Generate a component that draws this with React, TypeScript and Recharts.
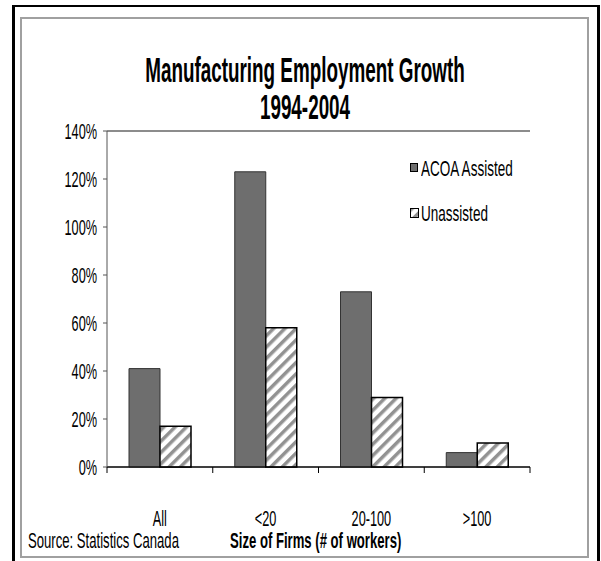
import { BarChart, Bar, XAxis, YAxis, CartesianGrid, Legend, ReferenceLine } from 'recharts'

const categories = ['All', '<20', '20-100', '>100']
const acoaAssisted = [41, 123, 73, 6]
const unassisted = [17, 58, 29, 10]
const yTicks = [0, 20, 40, 60, 80, 100, 120, 140]

const data = categories.map((name, i) => ({ name, acoa: acoaAssisted[i], unassisted: unassisted[i] }))

// narrow + tall look of the original: Arial-metric font squeezed sideways, stretched up
const FONT = '"Liberation Sans", Arial, sans-serif'
const SX = 0.82
const SY = 1.4
const PLOT_LEFT = 107
const PLOT_RIGHT = 530
const PLOT_TOP = 131
const PLOT_BOTTOM = 467
const BAND = (PLOT_RIGHT - PLOT_LEFT) / categories.length

const XTick = (props: any) => {
  const { x, payload, index } = props
  const last = index === categories.length - 1
  return (
    <g>
      <line x1={x - BAND / 2} x2={x - BAND / 2} y1={PLOT_BOTTOM} y2={PLOT_BOTTOM + 6} stroke="#000" />
      {last && <line x1={x + BAND / 2} x2={x + BAND / 2} y1={PLOT_BOTTOM} y2={PLOT_BOTTOM + 6} stroke="#000" />}
      <text
        transform={`translate(${x},518) scale(${SX},${SY})`}
        textAnchor="middle"
        dy="0.36em"
        fontFamily={FONT}
        fontSize={15.5}
        fill="#000"
      >
        {payload.value}
      </text>
    </g>
  )
}

const YTick = (props: any) => {
  const { y, payload } = props
  return (
    <text
      transform={`translate(97,${y}) scale(${SX},${SY})`}
      textAnchor="end"
      dy="0.36em"
      fontFamily={FONT}
      fontSize={15.5}
      fill="#000"
    >
      {payload.value}%
    </text>
  )
}

const squeeze = (sy: number) => ({ transform: `scale(${SX},${sy})`, transformOrigin: 'left center', whiteSpace: 'nowrap' as const })

const LegendBox = () => (
  <div style={{ fontFamily: FONT, fontSize: 16.5, color: '#000', position: 'relative', width: 111, height: 85 }}>
    <div style={{ position: 'absolute', left: 3, top: 13, width: 8, height: 9, background: '#6e6e6e', border: '1px solid #000', boxSizing: 'border-box' }} />
    <div style={{ position: 'absolute', left: 14, top: 8, lineHeight: '20px', ...squeeze(1.3) }}>ACOA Assisted</div>
    <svg style={{ position: 'absolute', left: 3, top: 58 }} width={9} height={10}>
      <rect x={0.5} y={0.5} width={8} height={9} fill="url(#hatch)" stroke="#000" />
    </svg>
    <div style={{ position: 'absolute', left: 14, top: 53, lineHeight: '20px', ...squeeze(1.3) }}>Unassisted</div>
  </div>
)

export default function App() {
  return (
    <div style={{ position: 'absolute', left: 0, top: 0, width: 601, height: 561, overflow: 'hidden', background: '#fff' }}>
      <div style={{ position: 'absolute', left: 12, top: 5, width: 588, height: 600, borderStyle: 'solid', borderColor: '#000', borderWidth: '2px 3px', boxSizing: 'border-box' }} />
      <div style={{ position: 'absolute', left: 20, top: 17, width: 569, height: 541, border: '2px solid #a0a0a0', boxSizing: 'border-box' }} />

      <div style={{ position: 'absolute', left: 0, top: 0 }}>
        <BarChart
          width={601}
          height={561}
          data={data}
          margin={{ top: PLOT_TOP, left: PLOT_LEFT - 60, right: 601 - PLOT_RIGHT, bottom: 561 - PLOT_BOTTOM - 30 }}
          barGap={0}
        >
          <defs>
            <pattern id="hatch" width="8" height="8" patternUnits="userSpaceOnUse" patternTransform="rotate(45)">
              <rect width="8" height="8" fill="#fff" />
              <rect width="3.5" height="8" fill="#929292" />
            </pattern>
          </defs>
          <CartesianGrid vertical={false} stroke="#000" />
          <XAxis dataKey="name" height={30} axisLine={{ stroke: '#000' }} tickLine={false} tick={<XTick />} interval={0} />
          <YAxis
            yAxisId="left"
            width={60}
            domain={[0, 140]}
            ticks={yTicks}
            interval={0}
            axisLine={{ stroke: '#555' }}
            tickLine={{ stroke: '#555' }}
            tickSize={4}
            tick={<YTick />}
          />
          <YAxis yAxisId="right" orientation="right" width={0} domain={[0, 140]} ticks={yTicks} axisLine={{ stroke: '#999' }} tickLine={false} tick={false} />
          <ReferenceLine yAxisId="left" y={140} stroke="#999" />
          <Bar yAxisId="left" dataKey="acoa" name="ACOA Assisted" fill="#6e6e6e" stroke="#333" barSize={31} isAnimationActive={false} />
          <Bar yAxisId="left" dataKey="unassisted" name="Unassisted" fill="url(#hatch)" stroke="#000" strokeWidth={1.5} barSize={31} isAnimationActive={false} />
          <Legend
            layout="vertical"
            align="center"
            verticalAlign="middle"
            content={<LegendBox />}
            wrapperStyle={{ left: 407, top: 150, width: 111, height: 85, background: '#fff' }}
          />
        </BarChart>
      </div>

      <div style={{ position: 'absolute', left: 0, width: 610, top: 56, textAlign: 'center', fontFamily: FONT, fontWeight: 'bold', fontSize: 23, lineHeight: '28px', transform: `scale(${SX},1.55)` }}>
        Manufacturing Employment Growth
      </div>
      <div style={{ position: 'absolute', left: 0, width: 610, top: 93, textAlign: 'center', fontFamily: FONT, fontWeight: 'bold', fontSize: 23, lineHeight: '28px', transform: `scale(${SX},1.5)` }}>
        1994-2004
      </div>
      <div style={{ position: 'absolute', left: 28, top: 531, fontFamily: FONT, fontSize: 16, lineHeight: '20px', ...squeeze(1.4) }}>
        Source: Statistics Canada
      </div>
      <div style={{ position: 'absolute', left: 230, top: 531, fontFamily: FONT, fontWeight: 'bold', fontSize: 16, lineHeight: '20px', ...squeeze(1.4) }}>
        Size of Firms (# of workers)
      </div>
    </div>
  )
}
